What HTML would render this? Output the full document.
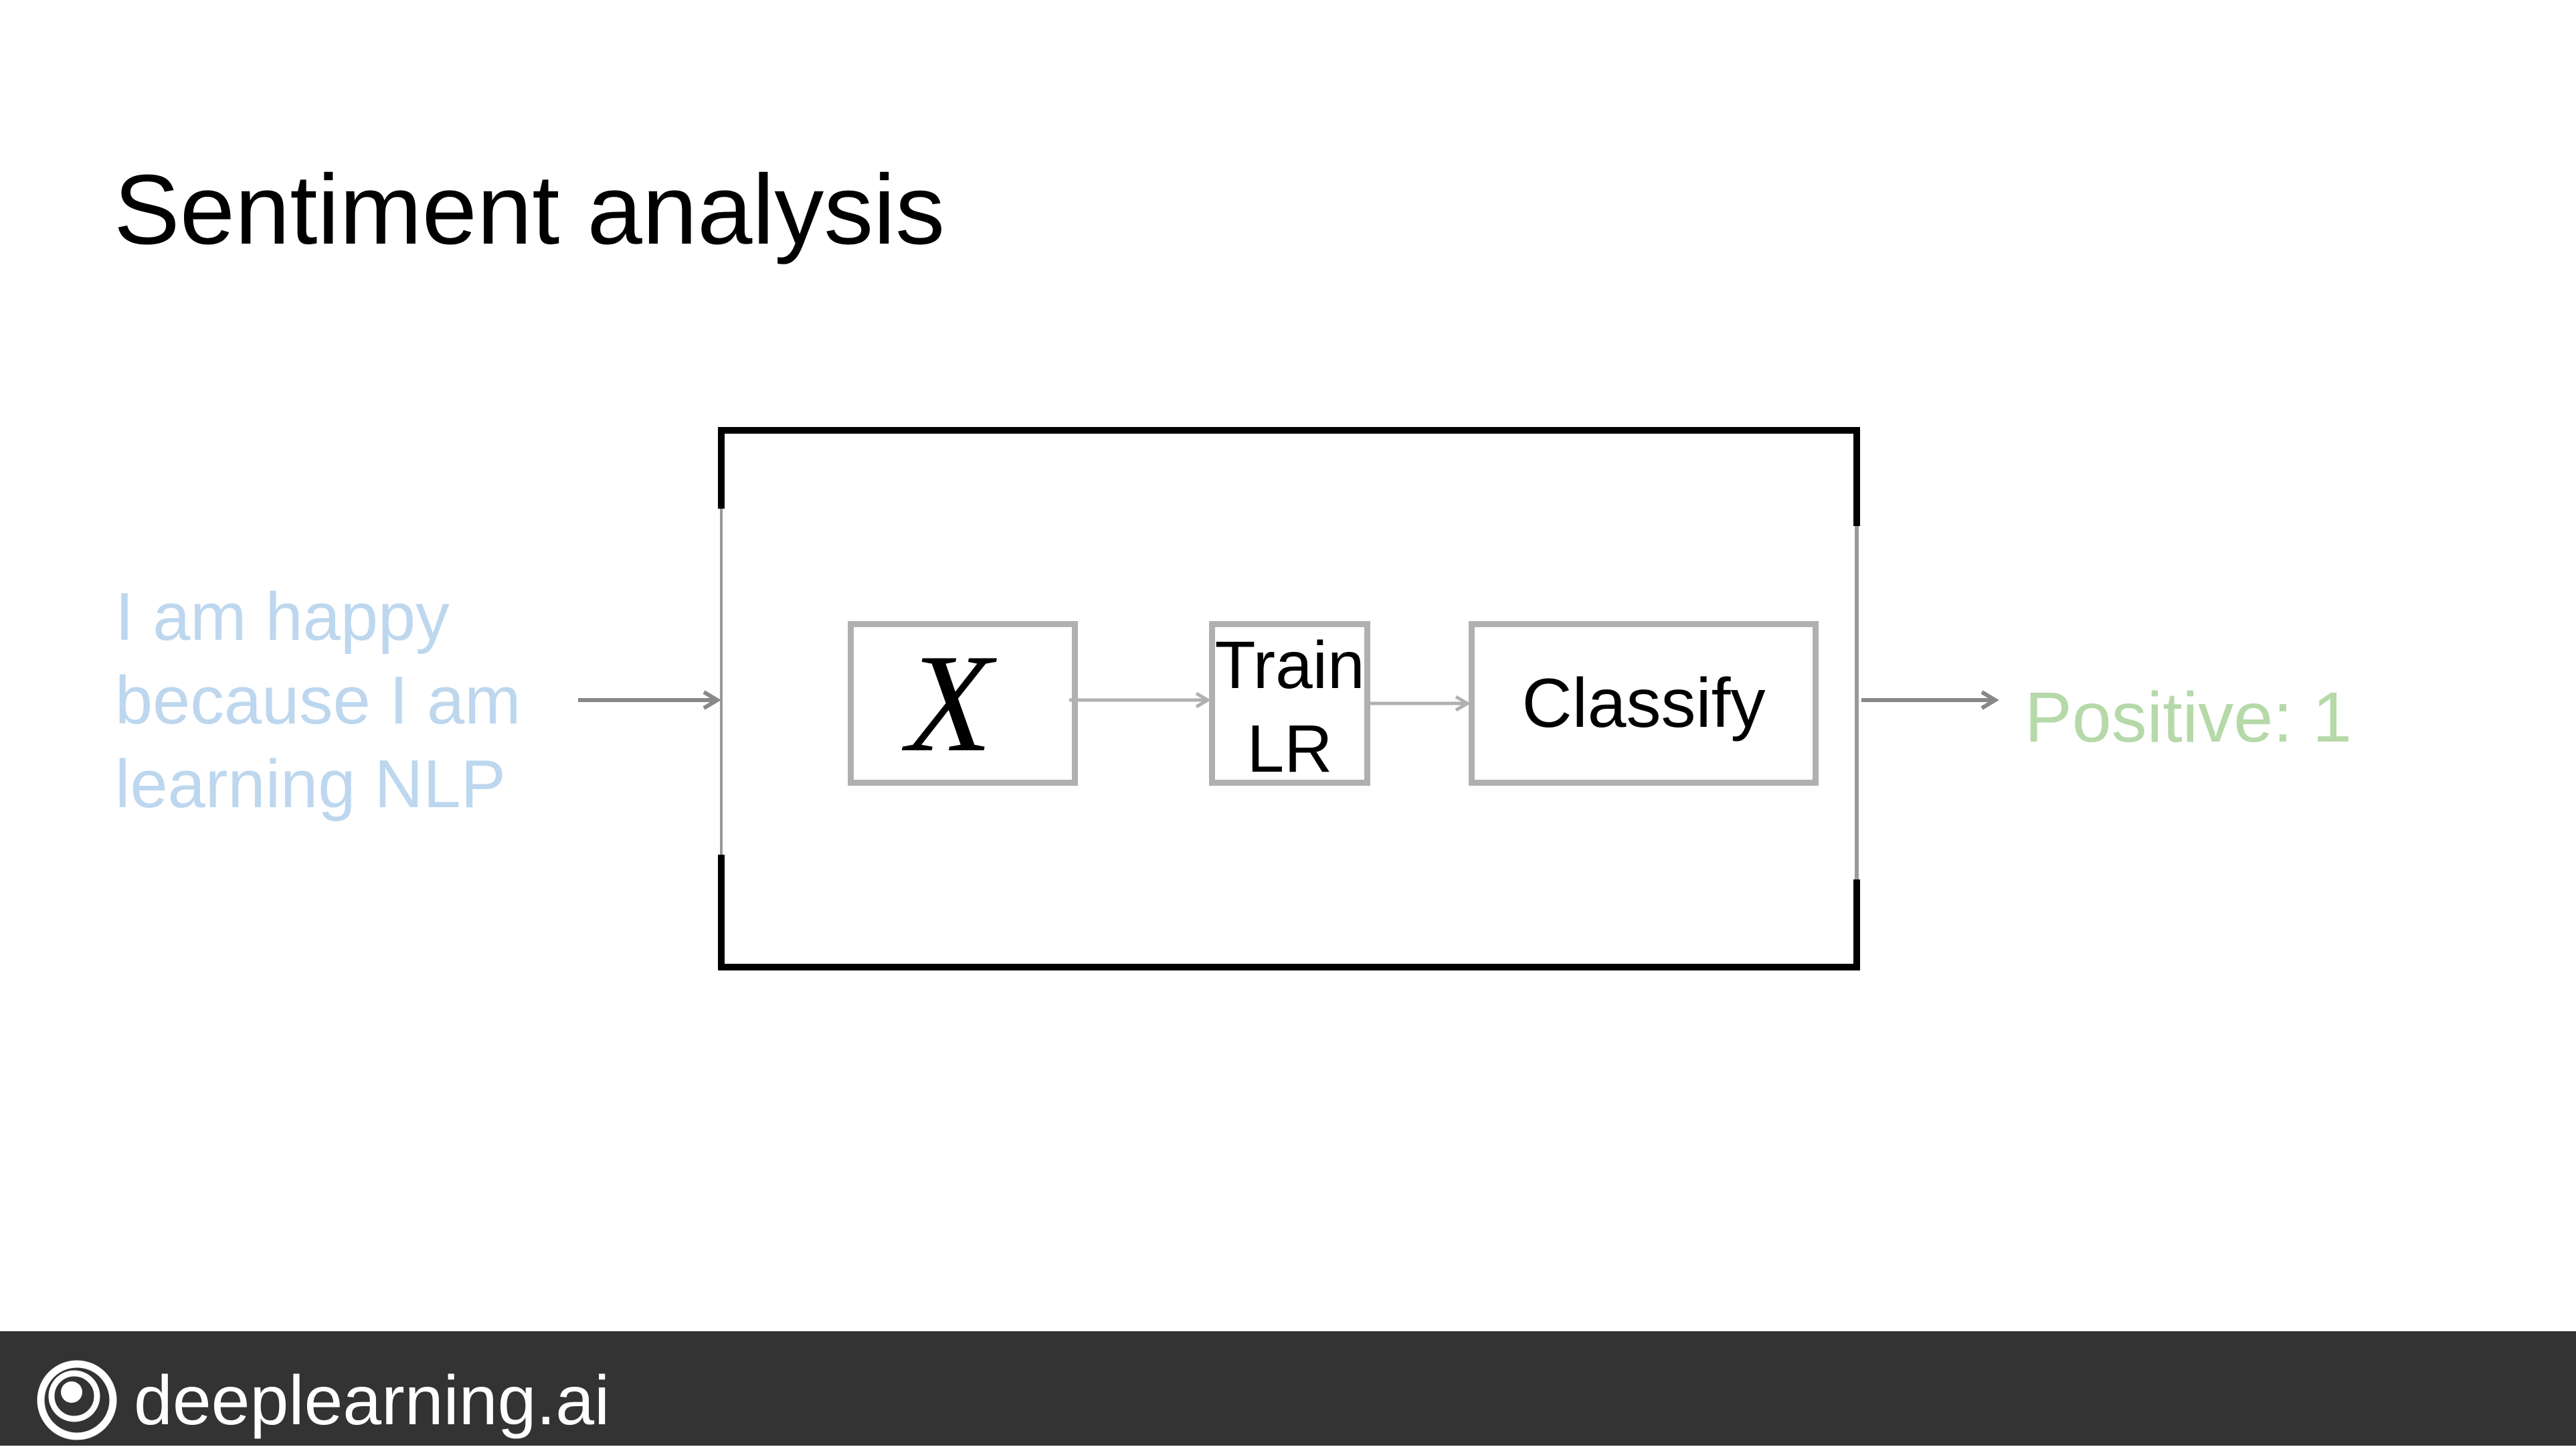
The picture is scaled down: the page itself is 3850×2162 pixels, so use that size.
<!DOCTYPE html>
<html><head><meta charset="utf-8"><style>
body{margin:0;width:3850px;height:2160px;background:#fff;position:relative;overflow:hidden;font-family:"Liberation Sans",sans-serif}
.t{position:absolute;white-space:nowrap}
.box{position:absolute;box-sizing:border-box;border:9px solid #b0b0b0}
</style></head><body>
<div class="t" style="left:170px;top:240px;font-size:148px;color:#000;line-height:1">Sentiment analysis</div>

<div class="t" style="left:172px;top:860px;font-size:101px;line-height:125px;color:#bdd7ee">I am happy<br>because I am<br>learning NLP</div>

<svg width="3850" height="2160" style="position:absolute;left:0;top:0">
<line x1="1078" y1="643" x2="2777" y2="643" stroke="#000" stroke-width="10"/>
<line x1="1078" y1="1445" x2="2777" y2="1445" stroke="#000" stroke-width="10"/>
<line x1="1078" y1="638" x2="1078" y2="760" stroke="#000" stroke-width="10"/>
<line x1="1078" y1="760" x2="1078" y2="1277" stroke="#999" stroke-width="4"/>
<line x1="1078" y1="1277" x2="1078" y2="1450" stroke="#000" stroke-width="10"/>
<line x1="2775" y1="638" x2="2775" y2="786" stroke="#000" stroke-width="10"/>
<line x1="2775" y1="786" x2="2775" y2="1314" stroke="#999" stroke-width="6"/>
<line x1="2775" y1="1314" x2="2775" y2="1450" stroke="#000" stroke-width="10"/>
<g stroke="#888" stroke-width="6" fill="none">
<line x1="864" y1="1046" x2="1070" y2="1046"/><path d="M1052,1034 L1072,1046 L1052,1058"/>
<line x1="2782" y1="1046" x2="2980" y2="1046"/><path d="M2962,1034 L2982,1046 L2962,1058"/>
</g>
<g stroke="#b0b0b0" stroke-width="5" fill="none">
<line x1="1598" y1="1046" x2="1803" y2="1046"/><path d="M1788,1036 L1805,1046 L1788,1056"/>
<line x1="2048" y1="1051" x2="2191" y2="1051"/><path d="M2176,1041 L2193,1051 L2176,1061"/>
</g>
</svg>

<div class="box" style="left:1267px;top:928px;width:344px;height:246px"></div>
<div class="t" style="left:1247px;top:928px;width:344px;height:246px;text-align:center;line-height:246px;font-family:'Liberation Serif',serif;font-style:italic;font-size:210px;color:#000">X</div>

<div class="box" style="left:1807px;top:928px;width:241px;height:246px"></div>
<div class="t" style="left:1790px;top:932px;width:275px;text-align:center;font-size:100px;line-height:125px;color:#000">Train<br>LR</div>

<div class="box" style="left:2195px;top:928px;width:523px;height:246px"></div>
<div class="t" style="left:2195px;top:928px;width:523px;height:246px;text-align:center;line-height:246px;font-size:104px;color:#000">Classify</div>

<div class="t" style="left:3026px;top:1010px;font-size:106px;line-height:125px;color:#b5d9a8">Positive: 1</div>

<div style="position:absolute;left:0;top:1989px;width:3850px;height:171px;background:#333"></div>
<svg width="140" height="140" style="position:absolute;left:45px;top:2022px">
<circle cx="70" cy="70" r="54" fill="none" stroke="#fff" stroke-width="11"/>
<circle cx="66" cy="64" r="34" fill="none" stroke="#fff" stroke-width="9"/>
<circle cx="62" cy="58" r="16" fill="#fff"/>
</svg>
<div class="t" style="left:200px;top:2028px;font-size:104px;line-height:130px;color:#fff">deeplearning.ai</div>
</body></html>
